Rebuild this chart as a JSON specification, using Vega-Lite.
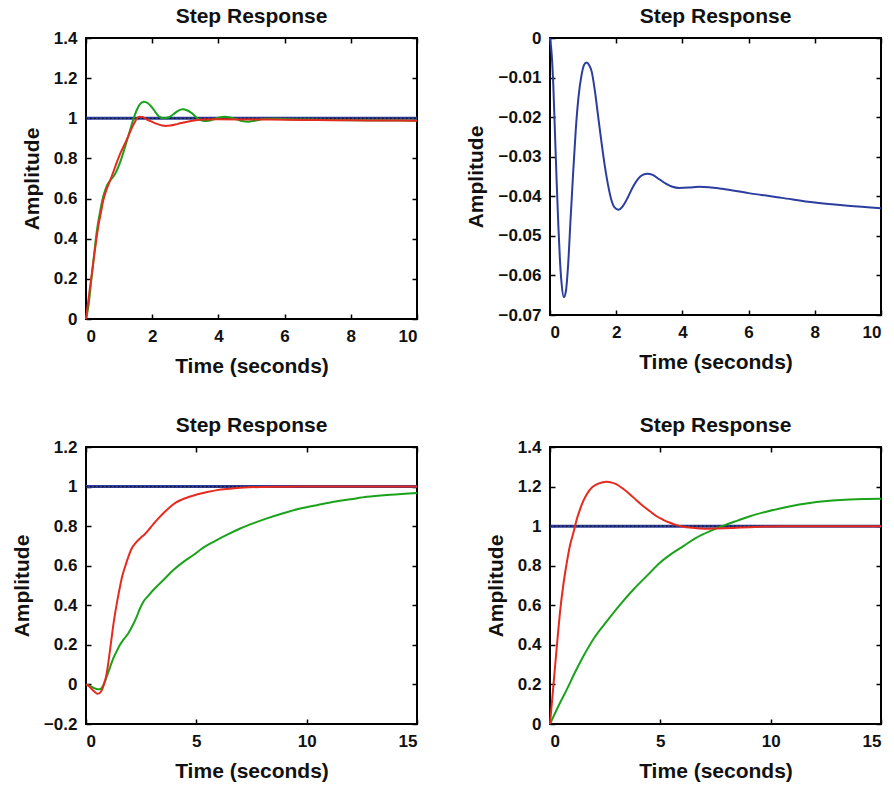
{
  "$schema": "https://vega.github.io/schema/vega-lite/v6.json",
  "background": "white",
  "padding": {"left": 10, "top": 5, "right": 6, "bottom": 6},
  "columns": 2,
  "spacing": {"row": 37, "column": 40},
  "datasets": {
    "p1": [
      {"t":0,"y":1,"s":"ref"},{"t":10,"y":1,"s":"ref"},
      {"t":0,"y":0,"s":"green"},{"t":0.07,"y":0.06,"s":"green"},{"t":0.17,"y":0.21,"s":"green"},{"t":0.25,"y":0.33,"s":"green"},{"t":0.32,"y":0.43,"s":"green"},{"t":0.42,"y":0.53,"s":"green"},{"t":0.52,"y":0.61,"s":"green"},{"t":0.62,"y":0.66,"s":"green"},{"t":0.73,"y":0.69,"s":"green"},{"t":0.83,"y":0.71,"s":"green"},{"t":0.93,"y":0.74,"s":"green"},{"t":1.03,"y":0.78,"s":"green"},{"t":1.13,"y":0.83,"s":"green"},{"t":1.23,"y":0.885,"s":"green"},{"t":1.33,"y":0.94,"s":"green"},{"t":1.43,"y":0.995,"s":"green"},{"t":1.53,"y":1.04,"s":"green"},{"t":1.63,"y":1.07,"s":"green"},{"t":1.75,"y":1.083,"s":"green"},{"t":1.87,"y":1.075,"s":"green"},{"t":1.99,"y":1.055,"s":"green"},{"t":2.1,"y":1.03,"s":"green"},{"t":2.2,"y":1.01,"s":"green"},{"t":2.34,"y":1.0,"s":"green"},{"t":2.5,"y":1.005,"s":"green"},{"t":2.64,"y":1.02,"s":"green"},{"t":2.78,"y":1.037,"s":"green"},{"t":2.92,"y":1.045,"s":"green"},{"t":3.05,"y":1.04,"s":"green"},{"t":3.2,"y":1.025,"s":"green"},{"t":3.33,"y":1.005,"s":"green"},{"t":3.45,"y":0.992,"s":"green"},{"t":3.58,"y":0.986,"s":"green"},{"t":3.7,"y":0.988,"s":"green"},{"t":3.85,"y":0.995,"s":"green"},{"t":4.0,"y":1.003,"s":"green"},{"t":4.2,"y":1.008,"s":"green"},{"t":4.38,"y":1.003,"s":"green"},{"t":4.55,"y":0.995,"s":"green"},{"t":4.72,"y":0.986,"s":"green"},{"t":4.9,"y":0.983,"s":"green"},{"t":5.1,"y":0.988,"s":"green"},{"t":5.37,"y":0.996,"s":"green"},{"t":5.7,"y":0.998,"s":"green"},{"t":6.2,"y":0.995,"s":"green"},{"t":7,"y":0.993,"s":"green"},{"t":8,"y":0.99,"s":"green"},{"t":9,"y":0.989,"s":"green"},{"t":10,"y":0.988,"s":"green"},
      {"t":0,"y":0,"s":"red"},{"t":0.1,"y":0.13,"s":"red"},{"t":0.22,"y":0.28,"s":"red"},{"t":0.3,"y":0.38,"s":"red"},{"t":0.37,"y":0.46,"s":"red"},{"t":0.45,"y":0.53,"s":"red"},{"t":0.52,"y":0.59,"s":"red"},{"t":0.62,"y":0.645,"s":"red"},{"t":0.73,"y":0.69,"s":"red"},{"t":0.83,"y":0.735,"s":"red"},{"t":0.93,"y":0.78,"s":"red"},{"t":1.05,"y":0.83,"s":"red"},{"t":1.18,"y":0.875,"s":"red"},{"t":1.3,"y":0.92,"s":"red"},{"t":1.43,"y":0.967,"s":"red"},{"t":1.52,"y":0.995,"s":"red"},{"t":1.61,"y":1.008,"s":"red"},{"t":1.7,"y":1.007,"s":"red"},{"t":1.83,"y":0.995,"s":"red"},{"t":2.0,"y":0.982,"s":"red"},{"t":2.14,"y":0.972,"s":"red"},{"t":2.3,"y":0.964,"s":"red"},{"t":2.39,"y":0.962,"s":"red"},{"t":2.55,"y":0.964,"s":"red"},{"t":2.7,"y":0.969,"s":"red"},{"t":2.84,"y":0.975,"s":"red"},{"t":3.1,"y":0.984,"s":"red"},{"t":3.35,"y":0.991,"s":"red"},{"t":3.65,"y":0.994,"s":"red"},{"t":3.95,"y":0.995,"s":"red"},{"t":5,"y":0.994,"s":"red"},{"t":6,"y":0.993,"s":"red"},{"t":7,"y":0.991,"s":"red"},{"t":8,"y":0.99,"s":"red"},{"t":9,"y":0.989,"s":"red"},{"t":10,"y":0.988,"s":"red"}
    ],
    "p2": [
      {"t":0,"y":0,"s":"blue"},{"t":0.05,"y":-0.004,"s":"blue"},{"t":0.1,"y":-0.012,"s":"blue"},{"t":0.15,"y":-0.024,"s":"blue"},{"t":0.2,"y":-0.036,"s":"blue"},{"t":0.25,"y":-0.047,"s":"blue"},{"t":0.3,"y":-0.056,"s":"blue"},{"t":0.35,"y":-0.062,"s":"blue"},{"t":0.42,"y":-0.0655,"s":"blue"},{"t":0.48,"y":-0.064,"s":"blue"},{"t":0.55,"y":-0.057,"s":"blue"},{"t":0.62,"y":-0.046,"s":"blue"},{"t":0.7,"y":-0.034,"s":"blue"},{"t":0.78,"y":-0.023,"s":"blue"},{"t":0.86,"y":-0.015,"s":"blue"},{"t":0.95,"y":-0.0095,"s":"blue"},{"t":1.03,"y":-0.0068,"s":"blue"},{"t":1.1,"y":-0.0062,"s":"blue"},{"t":1.18,"y":-0.0068,"s":"blue"},{"t":1.26,"y":-0.0085,"s":"blue"},{"t":1.35,"y":-0.013,"s":"blue"},{"t":1.45,"y":-0.0195,"s":"blue"},{"t":1.55,"y":-0.026,"s":"blue"},{"t":1.65,"y":-0.032,"s":"blue"},{"t":1.75,"y":-0.037,"s":"blue"},{"t":1.85,"y":-0.0408,"s":"blue"},{"t":1.95,"y":-0.0428,"s":"blue"},{"t":2.07,"y":-0.0434,"s":"blue"},{"t":2.2,"y":-0.0425,"s":"blue"},{"t":2.35,"y":-0.0403,"s":"blue"},{"t":2.5,"y":-0.0377,"s":"blue"},{"t":2.65,"y":-0.0357,"s":"blue"},{"t":2.8,"y":-0.0346,"s":"blue"},{"t":2.95,"y":-0.0343,"s":"blue"},{"t":3.1,"y":-0.0346,"s":"blue"},{"t":3.3,"y":-0.0357,"s":"blue"},{"t":3.5,"y":-0.0368,"s":"blue"},{"t":3.7,"y":-0.0376,"s":"blue"},{"t":3.9,"y":-0.0379,"s":"blue"},{"t":4.2,"y":-0.0378,"s":"blue"},{"t":4.5,"y":-0.0376,"s":"blue"},{"t":4.8,"y":-0.0377,"s":"blue"},{"t":5.2,"y":-0.0381,"s":"blue"},{"t":6,"y":-0.0392,"s":"blue"},{"t":7,"y":-0.0404,"s":"blue"},{"t":8,"y":-0.0416,"s":"blue"},{"t":9,"y":-0.0424,"s":"blue"},{"t":10,"y":-0.043,"s":"blue"}
    ],
    "p3": [
      {"t":0,"y":1,"s":"ref"},{"t":15,"y":1,"s":"ref"},
      {"t":0,"y":0,"s":"green"},{"t":0.15,"y":-0.006,"s":"green"},{"t":0.26,"y":-0.013,"s":"green"},{"t":0.4,"y":-0.02,"s":"green"},{"t":0.51,"y":-0.024,"s":"green"},{"t":0.62,"y":-0.024,"s":"green"},{"t":0.71,"y":-0.018,"s":"green"},{"t":0.82,"y":0.005,"s":"green"},{"t":0.94,"y":0.04,"s":"green"},{"t":1.1,"y":0.09,"s":"green"},{"t":1.24,"y":0.133,"s":"green"},{"t":1.4,"y":0.17,"s":"green"},{"t":1.54,"y":0.2,"s":"green"},{"t":1.72,"y":0.23,"s":"green"},{"t":1.92,"y":0.259,"s":"green"},{"t":2.1,"y":0.295,"s":"green"},{"t":2.3,"y":0.343,"s":"green"},{"t":2.45,"y":0.385,"s":"green"},{"t":2.6,"y":0.418,"s":"green"},{"t":2.82,"y":0.448,"s":"green"},{"t":3.05,"y":0.477,"s":"green"},{"t":3.28,"y":0.503,"s":"green"},{"t":3.51,"y":0.528,"s":"green"},{"t":3.73,"y":0.553,"s":"green"},{"t":3.96,"y":0.578,"s":"green"},{"t":4.4,"y":0.618,"s":"green"},{"t":4.87,"y":0.654,"s":"green"},{"t":5.3,"y":0.69,"s":"green"},{"t":5.78,"y":0.721,"s":"green"},{"t":6.4,"y":0.757,"s":"green"},{"t":6.99,"y":0.788,"s":"green"},{"t":7.6,"y":0.815,"s":"green"},{"t":8.2,"y":0.839,"s":"green"},{"t":8.9,"y":0.864,"s":"green"},{"t":9.71,"y":0.889,"s":"green"},{"t":10.5,"y":0.907,"s":"green"},{"t":11.22,"y":0.923,"s":"green"},{"t":12,"y":0.936,"s":"green"},{"t":12.73,"y":0.948,"s":"green"},{"t":13.8,"y":0.959,"s":"green"},{"t":15,"y":0.968,"s":"green"},
      {"t":0,"y":0,"s":"red"},{"t":0.15,"y":-0.01,"s":"red"},{"t":0.26,"y":-0.024,"s":"red"},{"t":0.4,"y":-0.038,"s":"red"},{"t":0.51,"y":-0.047,"s":"red"},{"t":0.6,"y":-0.045,"s":"red"},{"t":0.71,"y":-0.03,"s":"red"},{"t":0.8,"y":-0.005,"s":"red"},{"t":0.91,"y":0.04,"s":"red"},{"t":1.0,"y":0.1,"s":"red"},{"t":1.09,"y":0.175,"s":"red"},{"t":1.2,"y":0.27,"s":"red"},{"t":1.32,"y":0.36,"s":"red"},{"t":1.43,"y":0.43,"s":"red"},{"t":1.54,"y":0.494,"s":"red"},{"t":1.65,"y":0.55,"s":"red"},{"t":1.77,"y":0.595,"s":"red"},{"t":1.92,"y":0.645,"s":"red"},{"t":2.07,"y":0.687,"s":"red"},{"t":2.25,"y":0.715,"s":"red"},{"t":2.45,"y":0.738,"s":"red"},{"t":2.65,"y":0.758,"s":"red"},{"t":2.83,"y":0.78,"s":"red"},{"t":3.05,"y":0.81,"s":"red"},{"t":3.28,"y":0.839,"s":"red"},{"t":3.55,"y":0.87,"s":"red"},{"t":3.81,"y":0.897,"s":"red"},{"t":4.05,"y":0.918,"s":"red"},{"t":4.34,"y":0.934,"s":"red"},{"t":4.65,"y":0.947,"s":"red"},{"t":5.02,"y":0.96,"s":"red"},{"t":5.45,"y":0.971,"s":"red"},{"t":5.93,"y":0.982,"s":"red"},{"t":6.5,"y":0.989,"s":"red"},{"t":7.14,"y":0.995,"s":"red"},{"t":8,"y":0.998,"s":"red"},{"t":9,"y":0.999,"s":"red"},{"t":10,"y":1.0,"s":"red"},{"t":15,"y":1.0,"s":"red"}
    ],
    "p4": [
      {"t":0,"y":1,"s":"ref"},{"t":15,"y":1,"s":"ref"},
      {"t":0,"y":0,"s":"green"},{"t":0.4,"y":0.095,"s":"green"},{"t":0.76,"y":0.174,"s":"green"},{"t":1.13,"y":0.26,"s":"green"},{"t":1.51,"y":0.342,"s":"green"},{"t":2.0,"y":0.435,"s":"green"},{"t":2.57,"y":0.519,"s":"green"},{"t":3.15,"y":0.6,"s":"green"},{"t":3.78,"y":0.68,"s":"green"},{"t":4.4,"y":0.75,"s":"green"},{"t":4.98,"y":0.815,"s":"green"},{"t":5.5,"y":0.86,"s":"green"},{"t":6.04,"y":0.899,"s":"green"},{"t":6.6,"y":0.94,"s":"green"},{"t":7.25,"y":0.975,"s":"green"},{"t":8.0,"y":1.008,"s":"green"},{"t":8.5,"y":1.028,"s":"green"},{"t":9.06,"y":1.05,"s":"green"},{"t":9.8,"y":1.073,"s":"green"},{"t":10.57,"y":1.093,"s":"green"},{"t":11.3,"y":1.109,"s":"green"},{"t":12.08,"y":1.122,"s":"green"},{"t":12.8,"y":1.13,"s":"green"},{"t":13.6,"y":1.135,"s":"green"},{"t":14.3,"y":1.137,"s":"green"},{"t":15,"y":1.138,"s":"green"},
      {"t":0,"y":0,"s":"red"},{"t":0.12,"y":0.15,"s":"red"},{"t":0.23,"y":0.292,"s":"red"},{"t":0.34,"y":0.43,"s":"red"},{"t":0.45,"y":0.562,"s":"red"},{"t":0.6,"y":0.7,"s":"red"},{"t":0.76,"y":0.815,"s":"red"},{"t":0.9,"y":0.9,"s":"red"},{"t":1.06,"y":0.966,"s":"red"},{"t":1.2,"y":1.03,"s":"red"},{"t":1.36,"y":1.085,"s":"red"},{"t":1.5,"y":1.125,"s":"red"},{"t":1.66,"y":1.16,"s":"red"},{"t":1.9,"y":1.195,"s":"red"},{"t":2.11,"y":1.211,"s":"red"},{"t":2.35,"y":1.221,"s":"red"},{"t":2.57,"y":1.224,"s":"red"},{"t":2.8,"y":1.22,"s":"red"},{"t":3.02,"y":1.211,"s":"red"},{"t":3.3,"y":1.19,"s":"red"},{"t":3.63,"y":1.16,"s":"red"},{"t":3.93,"y":1.13,"s":"red"},{"t":4.23,"y":1.101,"s":"red"},{"t":4.53,"y":1.075,"s":"red"},{"t":4.83,"y":1.05,"s":"red"},{"t":5.13,"y":1.032,"s":"red"},{"t":5.44,"y":1.017,"s":"red"},{"t":5.74,"y":1.005,"s":"red"},{"t":6.04,"y":0.997,"s":"red"},{"t":6.4,"y":0.992,"s":"red"},{"t":6.8,"y":0.988,"s":"red"},{"t":7.2,"y":0.987,"s":"red"},{"t":7.55,"y":0.988,"s":"red"},{"t":8.3,"y":0.991,"s":"red"},{"t":9.06,"y":0.995,"s":"red"},{"t":9.8,"y":0.998,"s":"red"},{"t":10.57,"y":1.0,"s":"red"},{"t":12,"y":1.0,"s":"red"},{"t":15,"y":1.0,"s":"red"}
    ]
  },
  "concat": [
    {
      "data": {"name": "p1"},
      "width": 331, "height": 281,
      "title": "Step Response",
      "resolve": {"axis": {"x": "independent", "y": "independent"}},
      "layer": [
        {"transform": [{"filter": "datum.s === 'ref'"}],
         "mark": {"type": "line", "color": "#2b3d9e", "strokeWidth": 3},
         "encoding": {
           "x": {"field": "t", "type": "quantitative", "scale": {"domain": [0, 10], "nice": false}, "axis": {"orient": "bottom", "values": [0,2,4,6,8,10], "title": "Time (seconds)"}},
           "y": {"field": "y", "type": "quantitative", "scale": {"domain": [0, 1.4], "nice": false}, "axis": {"orient": "left", "values": [0,0.2,0.4,0.6,0.8,1,1.2,1.4], "title": "Amplitude"}}}},
        {"transform": [{"filter": "datum.s === 'ref'"}],
         "mark": {"type": "line", "color": "#111111", "strokeWidth": 1.2, "strokeDash": [1.5, 2.5]},
         "encoding": {
           "x": {"field": "t", "type": "quantitative", "scale": {"domain": [0, 10], "nice": false}, "axis": {"orient": "top", "values": [0,2,4,6,8,10], "labels": false, "title": null}},
           "y": {"field": "y", "type": "quantitative", "scale": {"domain": [0, 1.4], "nice": false}, "axis": {"orient": "right", "values": [0,0.2,0.4,0.6,0.8,1,1.2,1.4], "labels": false, "title": null}}}},
        {"transform": [{"filter": "datum.s === 'green'"}],
         "mark": {"type": "line", "color": "#1aa31a", "strokeWidth": 2, "interpolate": "monotone"},
         "encoding": {"x": {"field": "t", "type": "quantitative", "scale": {"domain": [0, 10], "nice": false}, "axis": null}, "y": {"field": "y", "type": "quantitative", "scale": {"domain": [0, 1.4], "nice": false}, "axis": null}}},
        {"transform": [{"filter": "datum.s === 'red'"}],
         "mark": {"type": "line", "color": "#e62a1f", "strokeWidth": 2, "interpolate": "monotone"},
         "encoding": {"x": {"field": "t", "type": "quantitative", "scale": {"domain": [0, 10], "nice": false}, "axis": null}, "y": {"field": "y", "type": "quantitative", "scale": {"domain": [0, 1.4], "nice": false}, "axis": null}}}
      ]
    },
    {
      "data": {"name": "p2"},
      "width": 331, "height": 277,
      "title": "Step Response",
      "resolve": {"axis": {"x": "independent", "y": "independent"}},
      "layer": [
        {"mark": {"type": "line", "color": "#2b3d9e", "strokeWidth": 2, "interpolate": "monotone"},
         "encoding": {
           "x": {"field": "t", "type": "quantitative", "scale": {"domain": [0, 10], "nice": false}, "axis": {"orient": "bottom", "values": [0,2,4,6,8,10], "title": "Time (seconds)"}},
           "y": {"field": "y", "type": "quantitative", "scale": {"domain": [-0.07, 0], "nice": false, "zero": false}, "axis": {"orient": "left", "values": [-0.07,-0.06,-0.05,-0.04,-0.03,-0.02,-0.01,0], "title": "Amplitude"}}}},
        {"mark": {"type": "line", "strokeOpacity": 0},
         "encoding": {
           "x": {"field": "t", "type": "quantitative", "scale": {"domain": [0, 10], "nice": false}, "axis": {"orient": "top", "values": [0,2,4,6,8,10], "labels": false, "title": null}},
           "y": {"field": "y", "type": "quantitative", "scale": {"domain": [-0.07, 0], "nice": false, "zero": false}, "axis": {"orient": "right", "values": [-0.07,-0.06,-0.05,-0.04,-0.03,-0.02,-0.01,0], "labels": false, "title": null}}}}
      ]
    },
    {
      "data": {"name": "p3"},
      "width": 331, "height": 277,
      "title": "Step Response",
      "resolve": {"axis": {"x": "independent", "y": "independent"}},
      "layer": [
        {"transform": [{"filter": "datum.s === 'ref'"}],
         "mark": {"type": "line", "color": "#2b3d9e", "strokeWidth": 3},
         "encoding": {
           "x": {"field": "t", "type": "quantitative", "scale": {"domain": [0, 15], "nice": false}, "axis": {"orient": "bottom", "values": [0,5,10,15], "title": "Time (seconds)"}},
           "y": {"field": "y", "type": "quantitative", "scale": {"domain": [-0.2, 1.2], "nice": false}, "axis": {"orient": "left", "values": [-0.2,0,0.2,0.4,0.6,0.8,1,1.2], "title": "Amplitude"}}}},
        {"transform": [{"filter": "datum.s === 'ref'"}],
         "mark": {"type": "line", "color": "#111111", "strokeWidth": 1.2, "strokeDash": [1.5, 2.5]},
         "encoding": {
           "x": {"field": "t", "type": "quantitative", "scale": {"domain": [0, 15], "nice": false}, "axis": {"orient": "top", "values": [0,5,10,15], "labels": false, "title": null}},
           "y": {"field": "y", "type": "quantitative", "scale": {"domain": [-0.2, 1.2], "nice": false}, "axis": {"orient": "right", "values": [-0.2,0,0.2,0.4,0.6,0.8,1,1.2], "labels": false, "title": null}}}},
        {"transform": [{"filter": "datum.s === 'green'"}],
         "mark": {"type": "line", "color": "#1aa31a", "strokeWidth": 2, "interpolate": "monotone"},
         "encoding": {"x": {"field": "t", "type": "quantitative", "scale": {"domain": [0, 15], "nice": false}, "axis": null}, "y": {"field": "y", "type": "quantitative", "scale": {"domain": [-0.2, 1.2], "nice": false}, "axis": null}}},
        {"transform": [{"filter": "datum.s === 'red'"}],
         "mark": {"type": "line", "color": "#e62a1f", "strokeWidth": 2, "interpolate": "monotone"},
         "encoding": {"x": {"field": "t", "type": "quantitative", "scale": {"domain": [0, 15], "nice": false}, "axis": null}, "y": {"field": "y", "type": "quantitative", "scale": {"domain": [-0.2, 1.2], "nice": false}, "axis": null}}}
      ]
    },
    {
      "data": {"name": "p4"},
      "width": 331, "height": 277,
      "title": "Step Response",
      "resolve": {"axis": {"x": "independent", "y": "independent"}},
      "layer": [
        {"transform": [{"filter": "datum.s === 'ref'"}],
         "mark": {"type": "line", "color": "#2b3d9e", "strokeWidth": 3},
         "encoding": {
           "x": {"field": "t", "type": "quantitative", "scale": {"domain": [0, 15], "nice": false}, "axis": {"orient": "bottom", "values": [0,5,10,15], "title": "Time (seconds)"}},
           "y": {"field": "y", "type": "quantitative", "scale": {"domain": [0, 1.4], "nice": false}, "axis": {"orient": "left", "values": [0,0.2,0.4,0.6,0.8,1,1.2,1.4], "title": "Amplitude"}}}},
        {"transform": [{"filter": "datum.s === 'ref'"}],
         "mark": {"type": "line", "color": "#111111", "strokeWidth": 1.2, "strokeDash": [1.5, 2.5]},
         "encoding": {
           "x": {"field": "t", "type": "quantitative", "scale": {"domain": [0, 15], "nice": false}, "axis": {"orient": "top", "values": [0,5,10,15], "labels": false, "title": null}},
           "y": {"field": "y", "type": "quantitative", "scale": {"domain": [0, 1.4], "nice": false}, "axis": {"orient": "right", "values": [0,0.2,0.4,0.6,0.8,1,1.2,1.4], "labels": false, "title": null}}}},
        {"transform": [{"filter": "datum.s === 'green'"}],
         "mark": {"type": "line", "color": "#1aa31a", "strokeWidth": 2, "interpolate": "monotone"},
         "encoding": {"x": {"field": "t", "type": "quantitative", "scale": {"domain": [0, 15], "nice": false}, "axis": null}, "y": {"field": "y", "type": "quantitative", "scale": {"domain": [0, 1.4], "nice": false}, "axis": null}}},
        {"transform": [{"filter": "datum.s === 'red'"}],
         "mark": {"type": "line", "color": "#e62a1f", "strokeWidth": 2, "interpolate": "monotone"},
         "encoding": {"x": {"field": "t", "type": "quantitative", "scale": {"domain": [0, 15], "nice": false}, "axis": null}, "y": {"field": "y", "type": "quantitative", "scale": {"domain": [0, 1.4], "nice": false}, "axis": null}}}
      ]
    }
  ],
  "config": {
    "font": "Liberation Sans",
    "view": {"stroke": "#000000", "strokeWidth": 2},
    "title": {"font": "Liberation Sans", "fontSize": 21, "fontWeight": "bold", "color": "#111111", "offset": 2},
    "axis": {
      "grid": false,
      "domain": false,
      "format": "~r",
      "tickSize": -5,
      "tickColor": "#000000",
      "tickWidth": 1.5,
      "labelPadding": 14,
      "labelFont": "Liberation Sans",
      "labelFontSize": 17,
      "labelFontWeight": "bold",
      "labelColor": "#111111",
      "titleFont": "Liberation Sans",
      "titleFontSize": 21,
      "titleFontWeight": "bold",
      "titleColor": "#111111",
      "titlePadding": 11
    }
  }
}
